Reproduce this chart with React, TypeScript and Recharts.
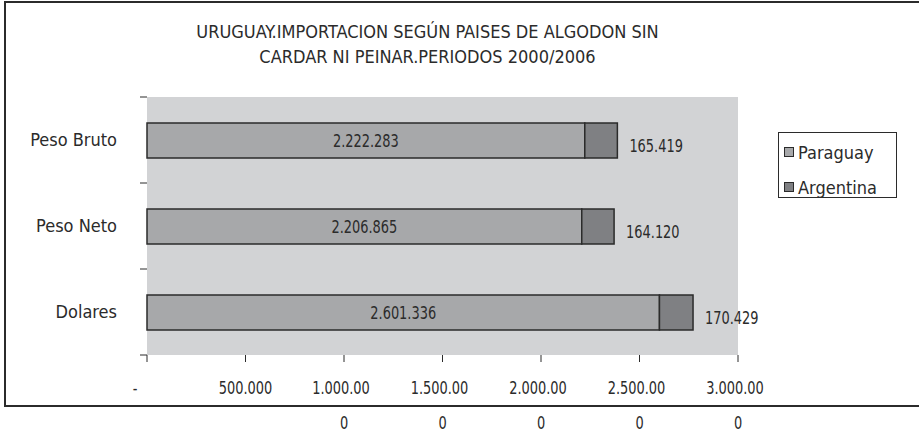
import { BarChart, Bar, XAxis, YAxis, CartesianGrid, LabelList } from "recharts";

const categories = ["Peso Bruto", "Peso Neto", "Dolares"];
const paraguay = [2222283, 2206865, 2601336];
const argentina = [165419, 164120, 170429];

const xTicks = [0, 500000, 1000000, 1500000, 2000000, 2500000, 3000000];
// Tick labels as they appear, wrapped onto two lines where the original wraps
const xTickLines = [
  ["-"],
  ["500.000"],
  ["1.000.00", "0"],
  ["1.500.00", "0"],
  ["2.000.00", "0"],
  ["2.500.00", "0"],
  ["3.000.00", "0"],
];

const titleLines = [
  "URUGUAY.IMPORTACION SEGÚN PAISES DE ALGODON SIN",
  "CARDAR NI PEINAR.PERIODOS 2000/2006",
];

const series = [
  { key: "paraguay", name: "Paraguay", color: "#a7a8aa" },
  { key: "argentina", name: "Argentina", color: "#7f8083" },
];

const data = categories.map((name, i) => ({
  name,
  paraguay: paraguay[i],
  argentina: argentina[i],
}));

const FONT = '"Liberation Sans Narrow", "DejaVu Sans Condensed", sans-serif';
const INK = "#2b2b2b";
const W = 919;
const H = 434;
const MARGIN = { top: 97, right: 181, bottom: 0, left: 0 };
const X_AXIS_H = 79;
const Y_AXIS_W = 147;
const BAND = (H - MARGIN.top - X_AXIS_H) / categories.length;
const NUM_SQUEEZE = 0.8; // digits in the original are narrower than the fallback font

const fmt = (v: number) => String(v).replace(/\B(?=(\d{3})+(?!\d))/g, ".");

// number text, squeezed horizontally around its anchor
const Num = ({ x, y, anchor, children }: any) => (
  <text
    transform={`translate(${x},${y}) scale(${NUM_SQUEEZE},1)`}
    textAnchor={anchor}
    fontSize={18}
    fill={INK}
    fontFamily={FONT}
  >
    {children}
  </text>
);

const XTick = ({ x, y, index }: any) => {
  const lines = xTickLines[index] || [];
  const dx = index === 0 ? -12 : 0;
  return (
    <g>
      {lines.map((t, i) => (
        <Num key={i} x={x + dx - (i === 0 && lines.length > 1 ? 3 : 0)} y={y + 30 + i * 35} anchor="middle">
          {t}
        </Num>
      ))}
    </g>
  );
};

// category label plus the short tick marks on the band boundaries
const CatTick = ({ y, payload, index }: any) => (
  <g>
    <line x1={Y_AXIS_W - 7} x2={Y_AXIS_W} y1={y - BAND / 2} y2={y - BAND / 2} stroke={INK} />
    {index === categories.length - 1 && (
      <line x1={Y_AXIS_W - 7} x2={Y_AXIS_W} y1={y + BAND / 2} y2={y + BAND / 2} stroke={INK} />
    )}
    <text x={117} y={y + 6} textAnchor="end" fontSize={18} fill={INK} fontFamily={FONT}>
      {payload.value}
    </text>
  </g>
);

const InsideLabel = ({ x, y, width, height, value }: any) => (
  <Num x={x + width / 2} y={y + height / 2 + 6} anchor="middle">
    {fmt(value)}
  </Num>
);

const RightLabel = ({ x, y, width, height, value }: any) => (
  <Num x={x + width + 12} y={y + height / 2 + 11} anchor="start">
    {fmt(value)}
  </Num>
);

export default function App() {
  return (
    <div
      style={{
        position: "absolute",
        left: 0,
        top: 0,
        width: W,
        height: H,
        overflow: "hidden",
        background: "#fff",
        fontFamily: FONT,
      }}
    >
      {/* chart frame, runs off the right edge */}
      <div
        style={{
          position: "absolute",
          left: 4,
          top: 1,
          width: 960,
          height: 406,
          border: `2px solid ${INK}`,
          boxSizing: "border-box",
        }}
      />
      {titleLines.map((t, i) => (
        <div
          key={i}
          style={{
            position: "absolute",
            left: 0,
            width: 855,
            top: 21 + i * 25,
            textAlign: "center",
            fontSize: 18,
            lineHeight: "22px",
            color: INK,
          }}
        >
          {t}
        </div>
      ))}
      <div style={{ position: "absolute", left: 0, top: 0 }}>
        <BarChart
          width={W}
          height={H}
          layout="vertical"
          data={data}
          barSize={35}
          margin={MARGIN}
        >
          <CartesianGrid fill="#d2d3d5" stroke="none" horizontal={false} vertical={false} />
          <XAxis
            type="number"
            domain={[0, 3000000]}
            ticks={xTicks}
            interval={0}
            axisLine={false}
            tickLine={{ stroke: INK }}
            tickSize={7}
            height={X_AXIS_H}
            tick={<XTick />}
          />
          <YAxis
            type="category"
            dataKey="name"
            width={Y_AXIS_W}
            axisLine={false}
            tickLine={false}
            tick={<CatTick />}
          />
          <Bar
            dataKey="paraguay"
            name="Paraguay"
            stackId="a"
            fill={series[0].color}
            stroke={INK}
            strokeWidth={1.5}
            isAnimationActive={false}
          >
            <LabelList dataKey="paraguay" content={<InsideLabel />} />
          </Bar>
          <Bar
            dataKey="argentina"
            name="Argentina"
            stackId="a"
            fill={series[1].color}
            stroke={INK}
            strokeWidth={1.5}
            isAnimationActive={false}
          >
            <LabelList dataKey="argentina" content={<RightLabel />} />
          </Bar>
        </BarChart>
      </div>
      {/* legend */}
      <div
        style={{
          position: "absolute",
          left: 778,
          top: 132,
          width: 119,
          height: 66,
          border: `1px solid ${INK}`,
          boxSizing: "border-box",
          background: "#fff",
        }}
      >
        {series.map((s, i) => (
          <div
            key={s.key}
            style={{
              position: "absolute",
              left: 5,
              top: 8 + i * 35,
              height: 22,
              display: "flex",
              alignItems: "center",
              fontSize: 18,
              color: INK,
              whiteSpace: "nowrap",
            }}
          >
            <span
              style={{
                display: "inline-block",
                width: 8,
                height: 8,
                background: s.color,
                border: `1px solid ${INK}`,
                marginRight: 4,
              }}
            />
            {s.name}
          </div>
        ))}
      </div>
    </div>
  );
}
